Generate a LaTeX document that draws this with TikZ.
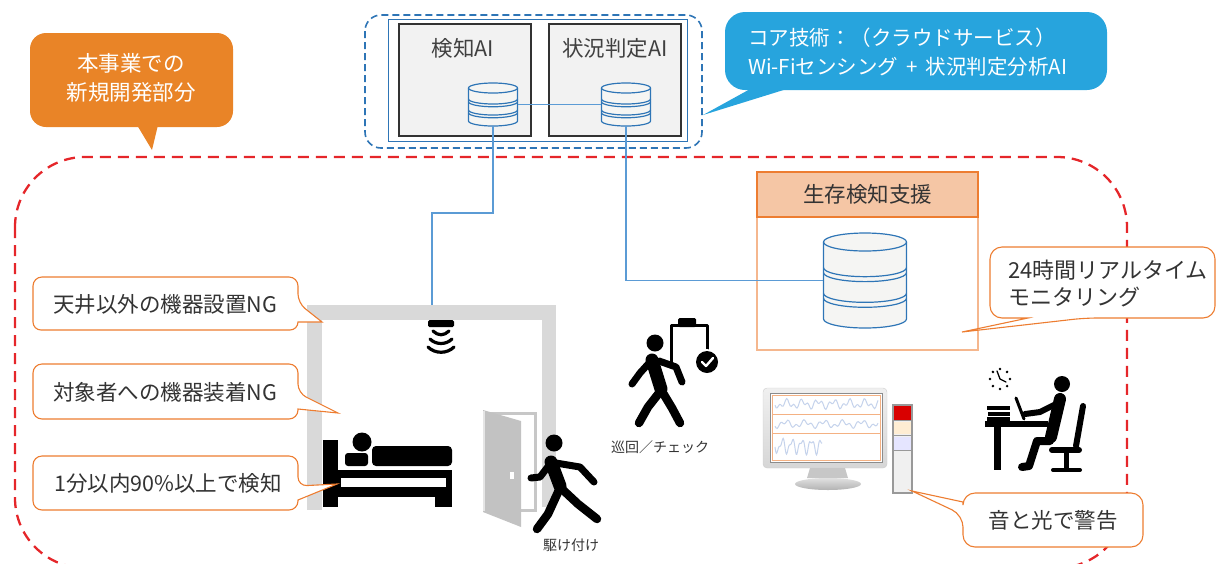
\documentclass[tikz,border=0pt]{standalone}
\usepackage{fontspec}
\setmainfont{Noto Sans CJK JP}
\usetikzlibrary{calc}

\definecolor{redline}{HTML}{E5262A}
\definecolor{cloudblue}{HTML}{2E75B6}
\definecolor{netblue}{HTML}{5B9BD5}
\definecolor{orangeline}{HTML}{ED7D31}
\definecolor{orangefill}{HTML}{E98427}
\definecolor{skyfill}{HTML}{27A4DD}
\definecolor{peach}{HTML}{F5C6A5}
\definecolor{txt}{HTML}{333333}
\definecolor{wallgray}{HTML}{D9D9D9}
\definecolor{dbfill}{HTML}{F5F5F3}
\definecolor{wave}{HTML}{C5D3EC}
\definecolor{panel}{HTML}{F4B183}

\tikzset{
  reddash/.style={draw=redline, line width=2.3pt, dash pattern=on 11pt off 7pt},
  bluedash/.style={draw=cloudblue, line width=1.6pt, dash pattern=on 7pt off 4pt},
  netline/.style={draw=netblue, line width=1.5pt},
  aibox/.style={draw=black!80, fill=black!5, line width=1.2pt, inner sep=0},
  lbltext/.style={inner sep=0, text=txt, font=\fontsize{21.5}{27}\selectfont},
  smalltext/.style={inner sep=0, text=txt, font=\fontsize{14}{16}\selectfont},
  calloutline/.style={draw=orangeline, fill=white, line width=1.1pt},
  dbline/.style={draw=cloudblue, line width=1.2pt},
  fig/.style={draw=black, line cap=round, line join=round},
}

% database stack: name, centre x, top edge, width, height, ellipse radius
\newcommand\dbstack[6]{%
  \pgfmathsetmacro\dbl{#2-#4/2}%
  \pgfmathsetmacro\dbr{#2+#4/2}%
  \pgfmathsetmacro\dbt{#3+#6}%
  \pgfmathsetmacro\dbb{#3+#5-#6}%
  \pgfmathsetmacro\dbsa{\dbt+(\dbb-\dbt)/3}%
  \pgfmathsetmacro\dbsb{\dbt+2*(\dbb-\dbt)/3}%
  \pgfmathsetmacro\dbgap{#6*0.55}%
  \pgfmathsetmacro\dbrx{#4/2}%
  \node[inner sep=0, minimum width=#4pt, minimum height=#5pt] (#1) at (#2,#3+#5/2) {};
  \fill[dbfill] (\dbl,\dbt) -- (\dbl,\dbb) arc[start angle=180, end angle=360, x radius=\dbrx pt, y radius=#6pt] -- (\dbr,\dbt) -- cycle;
  \draw[dbline] (\dbl,\dbt) -- (\dbl,\dbb) arc[start angle=180, end angle=360, x radius=\dbrx pt, y radius=#6pt] -- (\dbr,\dbt);
  \draw[dbline, fill=dbfill] (#2,\dbt) ellipse[x radius=\dbrx pt, y radius=#6pt];
  \foreach \s in {\dbsa,\dbsb}{%
    \draw[dbline] (\dbl,\s) arc[start angle=180, end angle=360, x radius=\dbrx pt, y radius=#6pt];
    \draw[dbline] (\dbl,\s+\dbgap) arc[start angle=180, end angle=360, x radius=\dbrx pt, y radius=#6pt];
  }%
}

\begin{document}
\begin{tikzpicture}[x=1pt, y=-1pt]
\useasboundingbox (0,0) rectangle (1217,563);

% project boundary
\draw[reddash, rounded corners=70pt] (15,157) rectangle (1127,568);

% cloud services
\draw[bluedash, rounded corners=16pt] (365,15) rectangle (702,148);
\draw[draw=cloudblue, line width=1pt] (388,19) rectangle (687,141);
\node[aibox, minimum width=132pt, minimum height=112pt] (ai1) at (465,80) {};
\node[aibox, minimum width=132pt, minimum height=112pt] (ai2) at (615,80) {};
\node[lbltext, text=black!75] (ai1t) at (463,48) {検知AI};
\node[lbltext, text=black!75] (ai2t) at (615,48) {状況判定AI};
\dbstack{db1}{493}{83}{49}{43}{5}
\dbstack{db2}{626}{83}{49}{43}{5}
\draw[netline, line width=0.8pt] (db1.east) -- (db2.west);

% survival monitoring box
\node[draw=orangeline!55, line width=1.2pt, minimum width=221pt, minimum height=178pt, inner sep=0] (survival) at (867.5,261) {};
\node[draw=orangeline, fill=peach, line width=1.2pt, minimum width=221pt, minimum height=45pt, inner sep=0, text=txt, font=\fontsize{21.5}{25}\selectfont] (survhead) at (867.5,194.5) {生存検知支援};
\dbstack{bigdb}{865}{233}{83}{95}{9}

% room
\fill[wallgray] (307,305) rectangle (322,510);
\fill[wallgray] (307,305) rectangle (556,320);
\fill[wallgray] (542,305) rectangle (556,507);

% ceiling sensor
\node[fill=black, minimum width=26pt, minimum height=7pt, inner sep=0, rounded corners=1.5pt] (sensor) at (441,323.5) {};
\draw[fig, line width=3.2pt] (433,331) .. controls (438,336) and (444,336) .. (449,331);
\draw[fig, line width=3.2pt] (430,339) .. controls (436,345) and (446,345) .. (452,339);
\draw[fig, line width=3.2pt] (428,347) .. controls (435,354) and (447,354) .. (454,347);
\coordinate (ceil) at (432,305);

% network links
\draw[netline] (db1.south) -- ++(0,87) -| (ceil);
\draw[netline] (db2.south) |- (bigdb.west);

% bed
\fill[black] (323,440) rectangle (338,507);
\fill[black] (323,470) rectangle (452,497);
\fill[white] (341,478) rectangle (446,487);
\fill[black] (435,497) rectangle (452,507);
\fill[black, rounded corners=3pt] (345,453) rectangle (368,466);
\fill[black, rounded corners=4pt] (372,446) rectangle (452,466);
\fill[black] (362,442) circle[radius=9.5pt];

% door
\draw[draw=black!22, line width=3pt, fill=white] (487,413) rectangle (535,510);
\fill[black!24] (483,410) -- (521,421) -- (521,527) -- (483,512) -- cycle;
\draw[black!10, line width=1.2pt] (484,411) -- (484,511);
\fill[white] (510,472) rectangle (514,479);

% running staff member
\begin{scope}[fig]
  \fill (554,443) circle[radius=8.5pt];
  \draw[line width=13pt] (551,462) -- (560,486);
  \draw[line width=7pt] (550,464) -- (540,477) -- (531,478);
  \draw[line width=7pt] (556,463) -- (580,467) -- (594,482);
  \draw[line width=8.5pt] (559,490) -- (548,514) -- (537,529);
  \draw[line width=8.5pt] (563,490) -- (578,504) -- (597,519);
\end{scope}
\node[smalltext] (rushlbl) at (571,545) {駆け付け};

% patrolling staff member
\begin{scope}[fig]
  \draw[line width=3pt, line cap=butt] (671,362) -- (671,325) -- (707,325) -- (707,350);
  \fill[rounded corners=1.5pt] (678,318) rectangle (696,327);
  \fill (655,343) circle[radius=8.5pt];
  \draw[line width=13pt] (652,360) -- (661,389);
  \draw[line width=7pt] (650,362) -- (640,373) -- (632,384);
  \draw[line width=7pt] (659,361) -- (676,367) -- (682,382);
  \draw[line width=8.5pt] (659,393) -- (648,407) -- (639,423);
  \draw[line width=8.5pt] (663,393) -- (672,408) -- (680,423);
  \fill[white] (707,362) circle[radius=13pt];
  \fill (707,362) circle[radius=11pt];
  \draw[white, line width=2.4pt] (702,362) -- (706,366) -- (713,358);
\end{scope}
\node[smalltext] (patrollbl) at (660,447) {巡回／チェック};

% monitor
\shade[top color=black!6, bottom color=black!16, rounded corners=4pt, draw=black!20] (763,388) rectangle (887,468);
\fill[white] (770,393) rectangle (882,462);
\draw[black!45, line width=0.8pt] (770,393) rectangle (882,462);
\draw[panel, line width=0.9pt] (772,395) rectangle (880,414);
\draw[panel, line width=0.9pt] (772,414) rectangle (880,433);
\draw[panel, line width=0.9pt] (772,433) rectangle (880,460);
\draw[wave, line width=1pt] plot[domain=0:103, samples=90] ({775+\x}, {404 + 3*sin(\x*23) + 2.5*sin(\x*51+30)});
\draw[wave, line width=1pt] plot[domain=0:103, samples=90] ({775+\x}, {424 + 2.5*sin(\x*19+60) + 2*sin(\x*47)});
\draw[wave, line width=1pt] plot[domain=0:47, samples=70] ({775+\x}, {446 + 6*sin(\x*37) + 3*sin(\x*71+20)});
\fill[black!22] (810,468) -- (845,468) -- (848,478) -- (807,478) -- cycle;
\shade[top color=black!12, bottom color=black!30] (828,484) ellipse[x radius=33pt, y radius=6pt];
\node[inner sep=0] (monitor) at (825,428) {};

% signal tower
\node[draw=black!40, fill=black!6, line width=1.2pt, minimum width=19pt, minimum height=88pt, inner sep=0] (tower) at (902.5,449) {};
\fill[red!85!black] (893.6,405.6) rectangle (911.4,420);
\fill[yellow!15!orange!15] (893.6,421.5) rectangle (911.4,434);
\fill[blue!10] (893.6,437) rectangle (911.4,450);
\draw[black!40, line width=1.2pt] (893,420.8) -- (912,420.8) (893,435.5) -- (912,435.5) (893,450.5) -- (912,450.5);

% staff at desk
\begin{scope}[fig]
  \foreach \a in {0,45,...,315} \fill[shift={(1000,379)}] (\a:10pt) circle[radius=1.4pt];
  \draw[line width=1.3pt] (1000,379) -- (997,371) (1000,379) -- (1006,382);
  \fill (987,406) rectangle (1010,410);
  \fill (988,412) rectangle (1010,415.5);
  \fill (987,417) rectangle (1010,421);
  \fill (985,421) rectangle (1048,427);
  \fill (994,427) rectangle (1001,470);
  \draw[line width=3pt] (1016,398) -- (1024,419);
  \fill (1062,384) circle[radius=8pt];
  \draw[line width=12pt] (1060,399) -- (1051,437);
  \draw[line width=6pt] (1058,403) -- (1040,412) -- (1025,414);
  \draw[line width=8pt] (1050,441) -- (1037,441) -- (1029,466) -- (1022,467);
  \draw[line width=6pt] (1083,406) -- (1076,446);
  \draw[line width=6pt] (1052,450) -- (1079,450);
  \draw[line width=5pt] (1066,450) -- (1066,468);
  \draw[line width=4pt] (1053,470) -- (1080,470);
\end{scope}
\node[inner sep=0] (desk) at (1035,430) {};

% callout: new development
\fill[orangefill, rounded corners=16pt] (30,33) rectangle (233,127);
\fill[orangefill] (137,125) -- (152,150) -- (158,125) -- cycle;
\node[inner sep=0, text=white, align=center, font=\fontsize{21.5}{29}\selectfont] (newdev) at (131,77.5) {本事業での\\新規開発部分};

% callout: core technology
\fill[skyfill, rounded corners=20pt] (725,12) rectangle (1107,90);
\fill[skyfill] (752,88) -- (703,115) -- (790,88) -- cycle;
\node[inner sep=0, text=white, align=left, anchor=west, font=\fontsize{20.5}{29}\selectfont] (coretech) at (748,52.5) {コア技術：（クラウドサービス）\\Wi-Fiセンシング\hspace{8pt}+\hspace{8pt}状況判定分析AI};

% requirement callouts
\draw[calloutline] (33,303) [rounded corners=9pt] -- (33,277) -- (298,277) -- (298,303) [sharp corners] -- (322,322) -- (298,322) [rounded corners=8pt] -- (298,330) -- (33,330) -- cycle;
\node[lbltext] (req1) at (165,304) {天井以外の機器設置NG};
\draw[calloutline] (33,390) [rounded corners=9pt] -- (33,364) -- (298,364) -- (298,393) [sharp corners] -- (338,413) -- (298,409) [rounded corners=9pt] -- (298,419) -- (33,419) -- cycle;
\node[lbltext] (req2) at (165,392) {対象者への機器装着NG};
\draw[calloutline] (33,483) [rounded corners=9pt] -- (33,456) -- (298,456) -- (298,486) [sharp corners] -- (337,484) -- (298,500) [rounded corners=9pt] -- (298,510) -- (33,510) -- cycle;
\node[lbltext] (req3) at (168,483) {1分以内90\%以上で検知};

% callout: realtime monitoring
\draw[calloutline] (990,283) [rounded corners=12pt] -- (990,247) -- (1215,247) -- (1215,318) -- (1085,318) [sharp corners] -- (962,332) -- (1028,318) [rounded corners=12pt] -- (990,318) -- cycle;
\node[lbltext, align=left, anchor=west, font=\fontsize{22}{27}\selectfont] (realtime) at (1008,283.5) {24時間リアルタイム\\モニタリング};

% callout: alarm
\draw[calloutline] (1050,493) [rounded corners=12pt] -- (1143,493) -- (1143,547) -- (963,547) -- (963,515) [sharp corners] -- (912,491) -- (963,502) [rounded corners=12pt] -- (963,493) -- cycle;
\node[lbltext] (alarm) at (1053,520) {音と光で警告};
\end{tikzpicture}
\end{document}
